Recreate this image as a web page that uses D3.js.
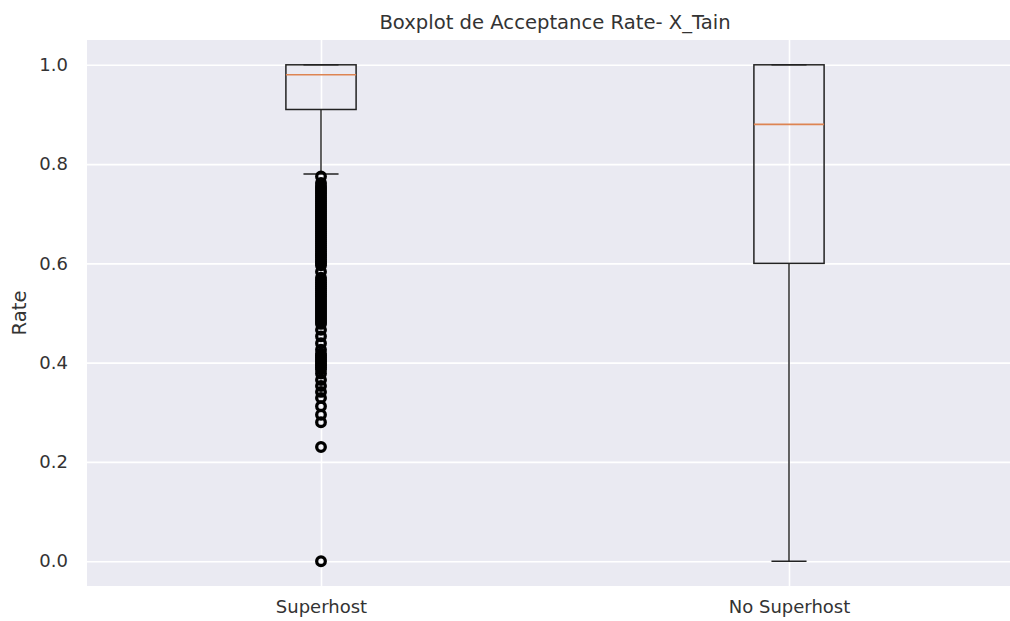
<!DOCTYPE html>
<html>
<head>
<meta charset="utf-8">
<script src="https://cdn.jsdelivr.net/npm/d3@7"></script>
<style>
  body { margin: 0; background: #fff; }
  text { font-family: "DejaVu Sans", sans-serif; fill: #333; }
</style>
</head>
<body>
<div id="chart"></div>
<script>
const width = 1010
const height = 621
const margin = { top: 40, left: 87, bottom: 586, right: 1023 }

const categories = ['Superhost', 'No Superhost']
const positions = [1, 2]
const q1 = [0.91, 0.60]
const median = [0.98, 0.88]
const q3 = [1.0, 1.0]
const whiskerLow = [0.78, 0.0]
const whiskerHigh = [1.0, 1.0]
const yTicks = [0.0, 0.2, 0.4, 0.6, 0.8, 1.0]

// outliers below the Superhost whisker
const superhostOutliers = [
  0.775, 0.762, 0.756, 0.752, 0.748, 0.744, 0.74, 0.736, 0.732, 0.728, 0.724, 0.72,
  0.716, 0.712, 0.708, 0.704, 0.70, 0.696, 0.692, 0.688, 0.684, 0.68, 0.676, 0.672,
  0.668, 0.664, 0.66, 0.656, 0.652, 0.648, 0.644, 0.64, 0.636, 0.632, 0.628, 0.624,
  0.62, 0.616, 0.612, 0.608, 0.604, 0.60, 0.596, 0.583, 0.571, 0.566, 0.562, 0.558,
  0.554, 0.55, 0.546, 0.542, 0.538, 0.534, 0.53, 0.526, 0.522, 0.518, 0.514, 0.51,
  0.506, 0.502, 0.498, 0.494, 0.49, 0.486, 0.482, 0.478, 0.466, 0.453, 0.439, 0.426,
  0.418, 0.414, 0.41, 0.406, 0.402, 0.398, 0.394, 0.39, 0.386, 0.378, 0.365, 0.353,
  0.341, 0.329, 0.312, 0.295, 0.28, 0.23, 0.0
]

const svg = d3.select('#chart').append('svg').attr('width', width).attr('height', height)

const x = d3.scaleLinear().domain([0.5, 2.5]).range([margin.left, margin.right])
const y = d3.scaleLinear().domain([-0.05, 1.05]).range([margin.bottom, margin.top])

// background
svg.append('rect')
  .attr('x', margin.left).attr('y', margin.top)
  .attr('width', margin.right - margin.left).attr('height', margin.bottom - margin.top)
  .attr('fill', '#EAEAF2')

// grid + axes
const yAxis = d3.axisLeft(y).tickValues(yTicks).tickFormat(d3.format('.1f'))
  .tickSize(-(margin.right - margin.left)).tickPadding(19)
const xAxis = d3.axisBottom(x).tickValues(positions).tickFormat((d, i) => categories[i])
  .tickSize(-(margin.bottom - margin.top)).tickPadding(14)

const yAxisGroup = svg.append('g').attr('transform', `translate(${margin.left},0)`).call(yAxis)
const xAxisGroup = svg.append('g').attr('transform', `translate(0,${margin.bottom})`).call(xAxis)

svg.selectAll('.domain').remove()
svg.selectAll('.tick line').attr('stroke', '#fff').attr('stroke-width', 1.6)
svg.selectAll('.tick text').attr('font-size', 18).attr('fill', '#333')
  .attr('font-family', '"DejaVu Sans", sans-serif')

const boxGroup = svg.append('g')
const boxW = 0.15
const capW = 0.075
const lineColor = '#222'

categories.forEach((c, i) => {
  const p = positions[i]
  const g = boxGroup.append('g')
  // whiskers
  g.append('line').attr('x1', x(p)).attr('x2', x(p)).attr('y1', y(q1[i])).attr('y2', y(whiskerLow[i]))
    .attr('stroke', lineColor).attr('stroke-width', 1.4)
  g.append('line').attr('x1', x(p)).attr('x2', x(p)).attr('y1', y(q3[i])).attr('y2', y(whiskerHigh[i]))
    .attr('stroke', lineColor).attr('stroke-width', 1.4)
  g.append('line').attr('x1', x(p - capW / 2)).attr('x2', x(p + capW / 2))
    .attr('y1', y(whiskerLow[i])).attr('y2', y(whiskerLow[i]))
    .attr('stroke', lineColor).attr('stroke-width', 1.4)
  g.append('line').attr('x1', x(p - capW / 2)).attr('x2', x(p + capW / 2))
    .attr('y1', y(whiskerHigh[i])).attr('y2', y(whiskerHigh[i]))
    .attr('stroke', lineColor).attr('stroke-width', 1.4)
  // box
  g.append('rect')
    .attr('x', x(p - boxW / 2)).attr('width', x(p + boxW / 2) - x(p - boxW / 2))
    .attr('y', y(q3[i])).attr('height', y(q1[i]) - y(q3[i]))
    .attr('fill', 'none').attr('stroke', lineColor).attr('stroke-width', 1.5)
  // median
  g.append('line').attr('x1', x(p - boxW / 2)).attr('x2', x(p + boxW / 2))
    .attr('y1', y(median[i])).attr('y2', y(median[i]))
    .attr('stroke', '#DD8452').attr('stroke-width', 1.7)
})

boxGroup.selectAll('circle').data(superhostOutliers).enter().append('circle')
  .attr('cx', x(positions[0]))
  .attr('cy', d => y(d))
  .attr('r', 4.3)
  .attr('fill', 'none')
  .attr('stroke', '#000')
  .attr('stroke-width', 3.3)

// title and y label
svg.append('text')
  .attr('x', (margin.left + margin.right) / 2).attr('y', 29)
  .attr('text-anchor', 'middle').attr('font-size', 19.6)
  .text('Boxplot de Acceptance Rate- X_Tain')

svg.append('text')
  .attr('transform', `translate(26,${(margin.top + margin.bottom) / 2}) rotate(-90)`)
  .attr('text-anchor', 'middle').attr('font-size', 19.6)
  .text('Rate')
</script>
</body>
</html>
